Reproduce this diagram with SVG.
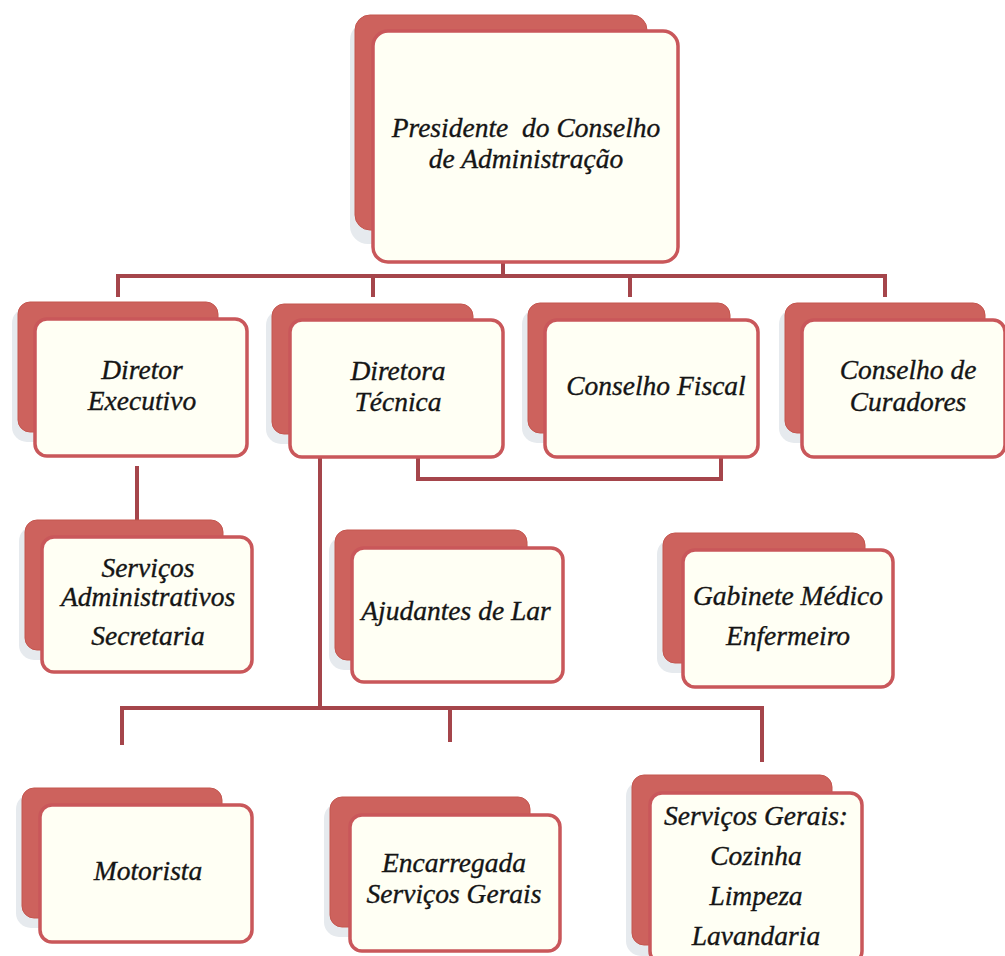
<svg xmlns="http://www.w3.org/2000/svg" width="1005" height="956" viewBox="0 0 1005 956">
<style>
.sh{fill:#e6eaee}
.bk{fill:#cd625d;stroke:#c4564f;stroke-width:1}
.fr{fill:#fffff4;stroke:#c9575a;stroke-width:3.5}
.t{font-family:"Liberation Serif",serif;font-style:italic;font-size:27.5px;fill:#151515;text-anchor:middle;stroke:#151515;stroke-width:0.35}
.c{stroke:#a5454b;stroke-width:4;fill:none}
</style>
<rect width="1005" height="956" fill="#ffffff"/>
<g id="connectors">
<path class="c" d="M503 262V276M118 276H885M118 274V297M373 274V297M630 274V297M885 274V297"/>
<path class="c" d="M137 466V536"/>
<path class="c" d="M320 412V708M122 708H762M122 706V745M450 706V742M762 706V762"/>
<path class="c" d="M418 412V479H721V455"/>
</g>
<g id="presidente">
<rect class="sh" x="350" y="22" width="300" height="222" rx="18"/>
<rect class="bk" x="355" y="15" width="292" height="215" rx="15"/>
<rect class="fr" x="373" y="31" width="305" height="231" rx="15"/>
<text class="t" x="526" y="137" font-size="29" xml:space="preserve" style="white-space:pre">Presidente  do Conselho</text>
<text class="t" x="526" y="168" font-size="29">de Administração</text>
</g>
<g id="diretor-executivo">
<rect class="sh" x="12" y="308" width="205" height="134" rx="15"/>
<rect class="bk" x="18" y="302" width="200" height="130" rx="12"/>
<rect class="fr" x="35" y="319" width="212" height="137" rx="12"/>
<text class="t" x="142" y="379">Diretor</text>
<text class="t" x="142" y="410">Executivo</text>
</g>
<g id="diretora-tecnica">
<rect class="sh" x="266" y="310" width="205" height="134" rx="15"/>
<rect class="bk" x="272" y="304" width="201" height="130" rx="12"/>
<rect class="fr" x="290" y="320" width="213" height="137" rx="12"/>
<text class="t" x="398" y="380">Diretora</text>
<text class="t" x="398" y="411">Técnica</text>
</g>
<g id="conselho-fiscal">
<rect class="sh" x="522" y="309" width="205" height="134" rx="15"/>
<rect class="bk" x="528" y="303" width="202" height="130" rx="12"/>
<rect class="fr" x="545" y="320" width="213" height="137" rx="12"/>
<text class="t" x="656" y="395">Conselho Fiscal</text>
</g>
<g id="conselho-curadores">
<rect class="sh" x="779" y="309" width="205" height="134" rx="15"/>
<rect class="bk" x="785" y="303" width="200" height="130" rx="12"/>
<rect class="fr" x="802" y="320" width="203" height="137" rx="12"/>
<text class="t" x="908" y="379">Conselho de</text>
<text class="t" x="908" y="411">Curadores</text>
</g>
<g id="servicos-administrativos">
<rect class="sh" x="19" y="526" width="205" height="134" rx="15"/>
<rect class="bk" x="25" y="520" width="198" height="130" rx="12"/>
<rect class="fr" x="42" y="537" width="210" height="135" rx="12"/>
<text class="t" x="148" y="577">Serviços</text>
<text class="t" x="148" y="606">Administrativos</text>
<text class="t" x="148" y="645">Secretaria</text>
</g>
<g id="ajudantes-lar">
<rect class="sh" x="329" y="536" width="200" height="134" rx="15"/>
<rect class="bk" x="335" y="530" width="192" height="130" rx="12"/>
<rect class="fr" x="352" y="548" width="211" height="134" rx="12"/>
<text class="t" x="456" y="620">Ajudantes de Lar</text>
</g>
<g id="gabinete-medico">
<rect class="sh" x="657" y="539" width="205" height="134" rx="15"/>
<rect class="bk" x="663" y="533" width="202" height="130" rx="12"/>
<rect class="fr" x="683" y="550" width="210" height="137" rx="12"/>
<text class="t" x="788" y="605">Gabinete Médico</text>
<text class="t" x="788" y="645">Enfermeiro</text>
</g>
<g id="motorista">
<rect class="sh" x="16" y="794" width="205" height="134" rx="15"/>
<rect class="bk" x="22" y="788" width="200" height="130" rx="12"/>
<rect class="fr" x="40" y="805" width="212" height="137" rx="12"/>
<text class="t" x="148" y="880">Motorista</text>
</g>
<g id="encarregada">
<rect class="sh" x="324" y="803" width="205" height="134" rx="15"/>
<rect class="bk" x="330" y="797" width="200" height="130" rx="12"/>
<rect class="fr" x="350" y="815" width="210" height="136" rx="12"/>
<text class="t" x="454" y="872">Encarregada</text>
<text class="t" x="454" y="903">Serviços Gerais</text>
</g>
<g id="servicos-gerais">
<rect class="sh" x="626" y="781" width="205" height="175" rx="15"/>
<rect class="bk" x="632" y="775" width="200" height="170" rx="12"/>
<rect class="fr" x="650" y="793" width="212" height="170" rx="12"/>
<text class="t" x="756" y="825">Serviços Gerais:</text>
<text class="t" x="756" y="865">Cozinha</text>
<text class="t" x="756" y="905">Limpeza</text>
<text class="t" x="756" y="945">Lavandaria</text>
</g>
</svg>
